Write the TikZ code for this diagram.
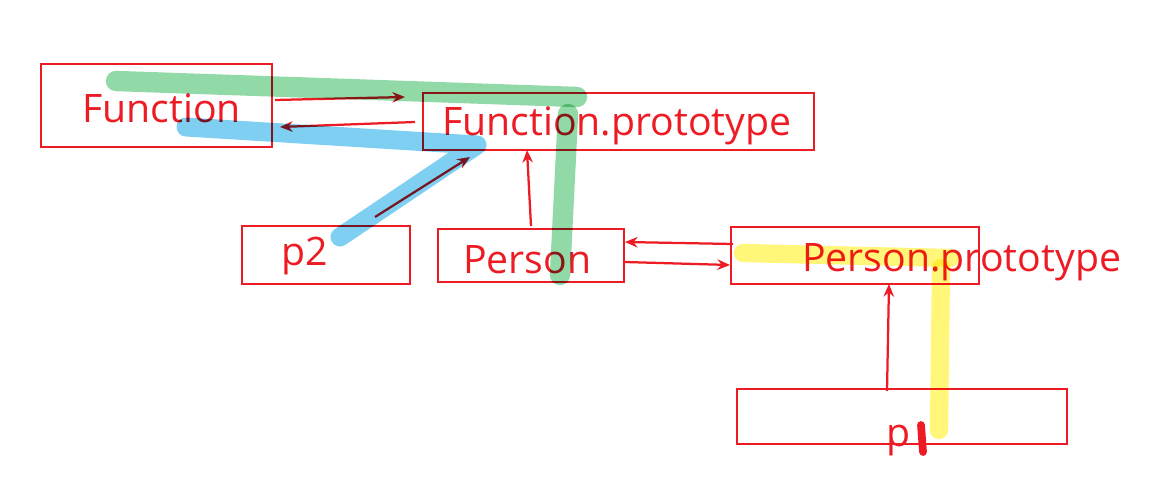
\documentclass[tikz,border=0pt]{standalone}
\usepackage{fontspec}
\setmainfont{Open Sans}
\usetikzlibrary{arrows.meta,fit}
\definecolor{myred}{RGB}{237,28,36}
\definecolor{mygreen}{RGB}{146,217,168}
\definecolor{myblue}{RGB}{127,207,243}
\definecolor{myyellow}{RGB}{255,246,122}
\tikzset{
  box/.style={draw=myred, line width=1.4pt, inner sep=0pt, rectangle},
  lbl/.style={text=myred, font=\fontsize{27.9}{31}\selectfont, anchor=base west, inner sep=0pt},
  arr/.style={draw=myred, line width=1.6pt, -{Stealth[length=9pt,width=7.5pt,inset=3pt]}},
  hl/.style={line width=14.5pt, line cap=round, line join=round},
}
\begin{document}
\begin{tikzpicture}[x=0.025cm,y=-0.025cm]
\useasboundingbox (0,0) rectangle (1157,500);
% boxes
\node[box, fit={(41,64) (272,147)}] (fn) {};
\node[box, fit={(423,93) (814,150)}] (fp) {};
\node[box, fit={(242,226) (410,284)}] (p2) {};
\node[box, fit={(438,229) (624,282)}] (person) {};
\node[box, fit={(731,227) (979,284)}] (pp) {};
\node[box, fit={(737,389) (1067,444)}] (p1) {};
% labels
\node[lbl] (tfn) at (82,122.7) {Function};
\node[lbl] (tfp) at (442,135) {Function.prototype};
\node[lbl] (tp2) at (281,265) {p2};
\node[lbl] (tperson) at (463,273) {Person};
\node[lbl] (tpp) at (802,271) {Person.prototype};
\node[lbl] (tp1) at (886,446) {p};
% arrow end points
\coordinate (a1s) at (275,100); \coordinate (a1e) at (405,97);
\coordinate (a2s) at (415,122); \coordinate (a2e) at (280,127);
\coordinate (a3s) at (375,217); \coordinate (a3e) at (470,157);
\coordinate (a4s) at (531,226); \coordinate (a4e) at (527,150);
\coordinate (a5s) at (733,244); \coordinate (a5e) at (625,242);
\coordinate (a6s) at (625,262); \coordinate (a6e) at (730,265);
\coordinate (a7s) at (887,391); \coordinate (a7e) at (889,284);
\draw[arr] (a1s) -- (a1e);
\draw[arr] (a2s) -- (a2e);
\draw[arr] (a3s) -- (a3e);
\draw[arr] (a4s) -- (a4e);
\draw[arr] (a5s) -- (a5e);
\draw[arr] (a6s) -- (a6e);
\draw[arr] (a7s) -- (a7e);
% handwritten mark
\coordinate (m1) at (921,425); \coordinate (m2) at (923,452);
\draw[myred, line width=5.5pt, line cap=round] (m1) -- (m2);
% highlight strokes
\begin{scope}[blend mode=multiply]
\coordinate (g1) at (116,81); \coordinate (g2) at (577,97);
\coordinate (g3) at (568,114); \coordinate (g4) at (560,275);
\draw[hl, mygreen] (g1) -- (g2);
\draw[hl, mygreen] (g3) -- (g4);
\coordinate (b1) at (186,127); \coordinate (b2) at (477,145); \coordinate (b3) at (340,237);
\draw[hl, myblue, line width=13.5pt] (b1) -- (b2) -- (b3);
\coordinate (y1) at (743,253); \coordinate (y2) at (950,258);
\coordinate (y3) at (941,268); \coordinate (y4) at (939,430);
\draw[hl, myyellow, line width=13pt] (y1) -- (y2);
\draw[hl, myyellow, line width=13pt] (y3) -- (y4);
\end{scope}
\end{tikzpicture}
\end{document}
